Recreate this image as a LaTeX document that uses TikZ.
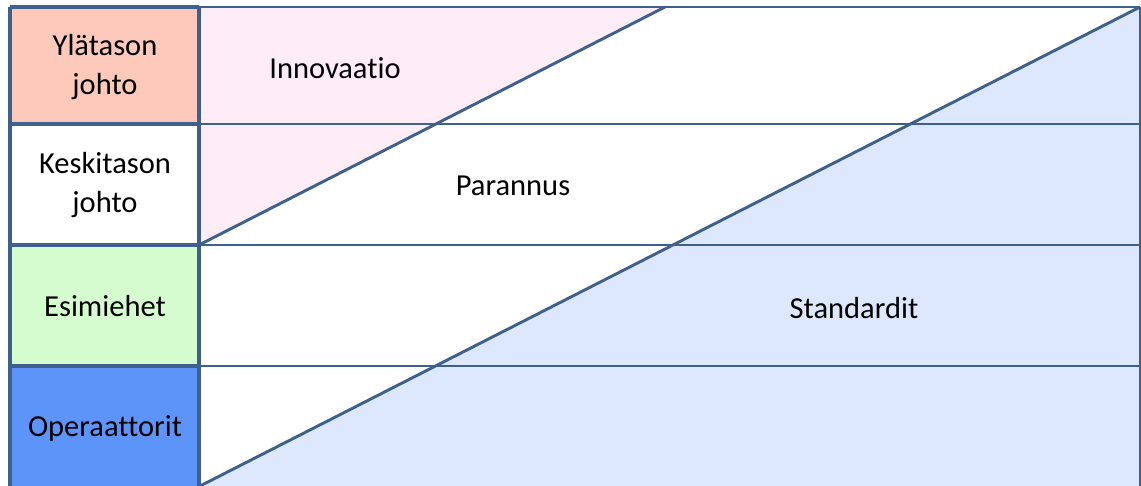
\documentclass[tikz,border=0pt]{standalone}
\usepackage{fontspec}
\setmainfont[Ligatures=NoCommon]{Carlito}
\definecolor{linec}{RGB}{62,96,140}
\definecolor{toprow}{RGB}{252,201,186}
\definecolor{greenrow}{RGB}{212,252,206}
\definecolor{bluerow}{RGB}{92,148,250}
\definecolor{pinkarea}{RGB}{254,236,246}
\definecolor{bluearea}{RGB}{221,232,254}
\begin{document}
\begin{tikzpicture}[x=1pt,y=-1pt,
  gridline/.style={draw=linec,line width=2.9pt},
  leftline/.style={draw=linec,line width=3.1pt},
  lbl/.style={font=\fontsize{30.5}{39}\selectfont,align=center,text=black,inner sep=0pt}]
\useasboundingbox (0,0) rectangle (1141,486);
% areas
\fill[pinkarea] (199,7) -- (665,7) -- (199,245) -- cycle;
\fill[bluearea] (200,486) -- (1140,7) -- (1140,486) -- cycle;
\fill[toprow] (10,7) rectangle (199,124);
\fill[white] (10,124) rectangle (199,245);
\fill[greenrow] (10,245) rectangle (199,366);
\fill[bluerow] (10,366) rectangle (199,486);
% coordinates
\coordinate (tl) at (10,7);
\coordinate (tr) at (1140,7);
\coordinate (r1l) at (10,124);
\coordinate (r1m) at (199,124);
\coordinate (r1r) at (1140,124);
\coordinate (r2l) at (10,245);
\coordinate (r2m) at (199,245);
\coordinate (r2r) at (1140,245);
\coordinate (r3l) at (10,366);
\coordinate (r3m) at (199,366);
\coordinate (r3r) at (1140,366);
\coordinate (bl) at (10,486);
\coordinate (bm) at (199,486);
\coordinate (br) at (1140,486);
\coordinate (tm) at (199,7);
\coordinate (pinktop) at (665,7);
\coordinate (pinkbot) at (199,245);
\coordinate (bluebot) at (200,486);
% grid
\draw[gridline] (tm) -- (tr);
\draw[gridline] (r1m) -- (r1r);
\draw[gridline] (r2m) -- (r2r);
\draw[gridline] (r3m) -- (r3r);
\draw[gridline] (tr) -- (br);
\draw[leftline] (tl) -- (tm);
\draw[leftline] (r1l) -- (r1m);
\draw[leftline] (r2l) -- (r2m);
\draw[leftline] (r3l) -- (r3m);
\draw[leftline] (tl) -- (bl);
\draw[leftline] (tm) -- (bm);
% diagonals
\draw[gridline] (pinkbot) -- (pinktop);
\draw[gridline] (bluebot) -- (tr);
% labels
\node[lbl] (yla) at (105,67) {Ylätason\\johto};
\node[lbl] (kes) at (105,185) {Keskitason\\johto};
\node[lbl] (esi) at (105,306) {Esimiehet};
\node[lbl] (ope) at (105,428) {Operaattorit};
\node[lbl] (inn) at (335,68) {Innovaatio};
\node[lbl] (par) at (513,186) {Parannus};
\node[lbl] (sta) at (854,308) {Standardit};
\end{tikzpicture}
\end{document}
